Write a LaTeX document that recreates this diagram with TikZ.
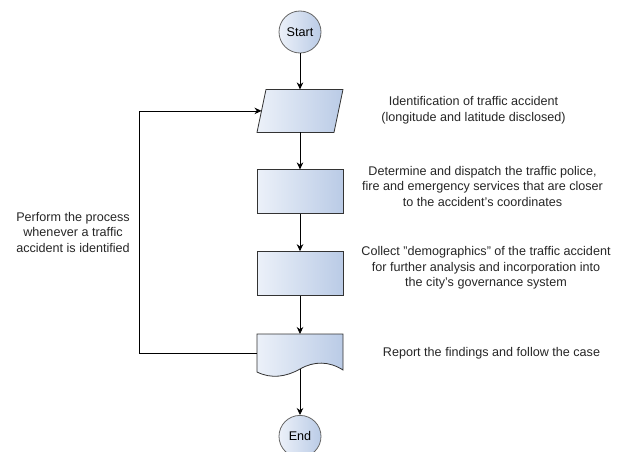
\documentclass[tikz,border=0pt]{standalone}
\usepackage{fontspec}
\setmainfont{Liberation Sans}
\usetikzlibrary{arrows.meta,positioning,calc}
\definecolor{boxleft}{RGB}{236,241,249}
\definecolor{boxright}{RGB}{186,203,230}
\definecolor{edgegray}{RGB}{51,51,51}

\begin{document}
\begin{tikzpicture}[
  x=1pt, y=1pt,
  node distance=37pt,
  font=\fontsize{12.6}{15.5}\selectfont,
  term/.style={draw=black!60, circle, minimum size=42pt,
               inner sep=0pt, left color=boxleft, right color=boxright, line width=0.8pt},
  proc/.style={draw=edgegray, minimum width=86pt, minimum height=44pt, inner sep=0pt,
               left color=boxleft, right color=boxright, line width=0.8pt},
  blank/.style={minimum width=86pt, inner sep=0pt, outer sep=0pt},
  shapefill/.style={draw=edgegray, left color=boxleft, right color=boxright, line width=0.8pt},
  note/.style={align=center, text=black!85},
  arr/.style={-{Stealth[length=7pt,width=6.5pt]}, line width=0.8pt}
]
\useasboundingbox (0,0) rectangle (626,-452);

\node[term] (start) at (300,-32) {Start};
\node[blank, minimum height=43pt, below=36pt of start] (ident) {};
\node[proc, below=of ident] (dispatch) {};
\node[proc, below=of dispatch] (collect) {};
\node[blank, minimum height=38pt, below=38pt of collect] (report) {};
\node[term, below=43pt of report] (end) {End};
\coordinate (back) at (139,0);

% parallelogram for the input step
\path[shapefill] ($(ident.north west)+(9,0)$) -- (ident.north east)
  -- ($(ident.south east)+(-9,0)$) -- (ident.south west) -- cycle;
% document shape with wavy bottom
\path[shapefill]
  (report.north west) -- (report.north east) -- ($(report.south east)+(0,2)$)
  .. controls ($(report.south)+(29,11)$) and ($(report.south)+(14,11)$) .. ($(report.south)+(0,3)$)
  .. controls ($(report.south)+(-14,-5)$) and ($(report.south)+(-29,-7)$) .. (report.south west)
  -- cycle;

\node[note] (identtxt) at (473.5,-110) {Identification of traffic accident\\(longitude and latitude disclosed)};
\node[note] (dispatchtxt) at (482.5,-186) {Determine and dispatch the traffic police,\\fire and emergency services that are closer\\to the accident's coordinates};
\node[note] (collecttxt) at (486,-268) {Collect "demographics" of the traffic accident\\for further analysis and incorporation into\\the city's governance system};
\node[note] (reporttxt) at (491.5,-353) {Report the findings and follow the case};
\node[note] (looptxt) at (73,-232) {Perform the process\\whenever a traffic\\accident is identified};

\draw[arr] (start) -- (ident);
\draw[arr] (ident) -- (dispatch);
\draw[arr] (dispatch) -- (collect);
\draw[arr] (collect) -- (report);
\draw[arr] ([yshift=3pt]report.south) -- (end);
\draw[arr] (report.west) -- (report.west -| back) |- ([xshift=4.5pt]ident.west);
\end{tikzpicture}
\end{document}
